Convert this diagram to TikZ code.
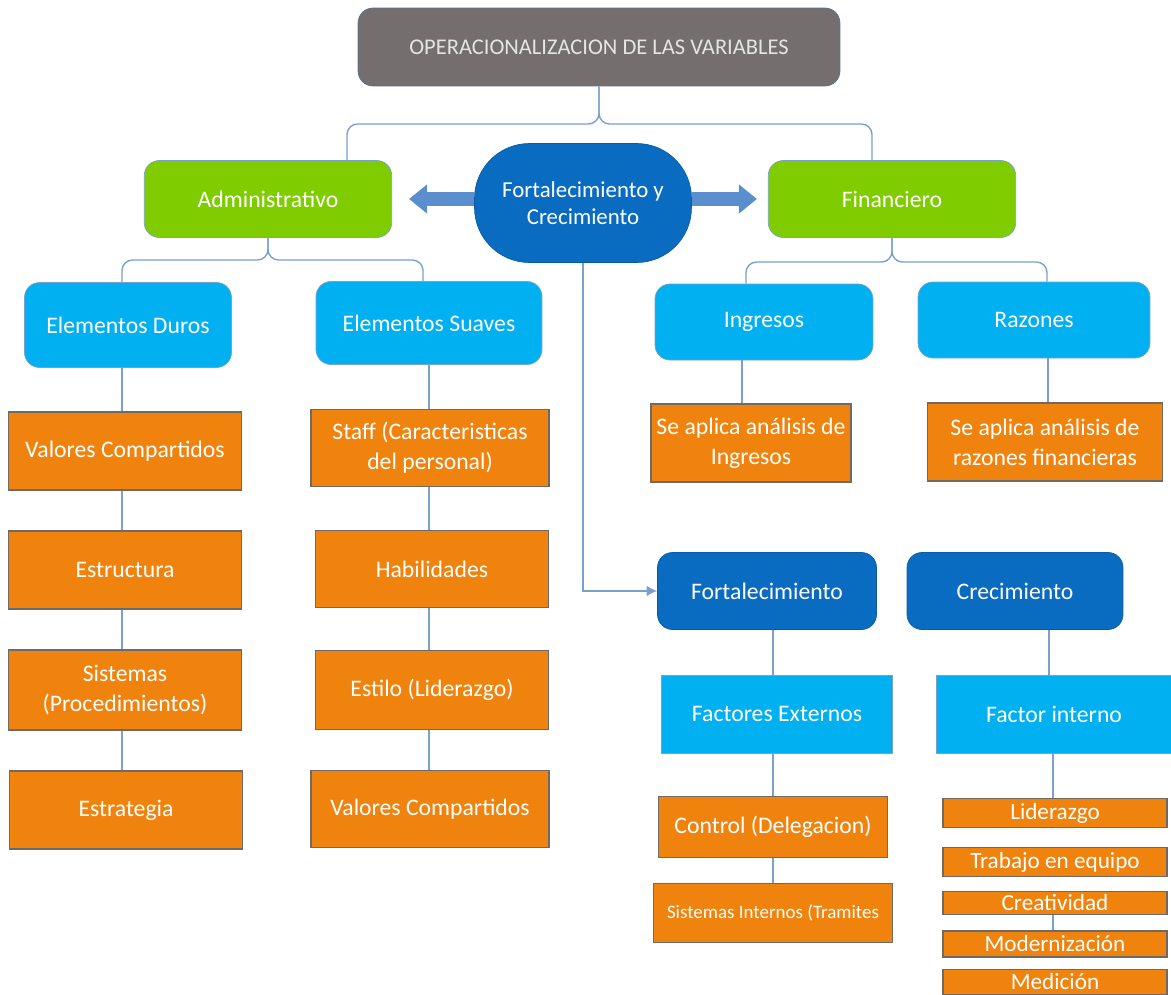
\documentclass[tikz,border=0pt]{standalone}
\usepackage{fontspec}
\setmainfont{Carlito}
\usetikzlibrary{arrows.meta, positioning, calc}
\definecolor{TitleGray}{RGB}{117,110,110}
\definecolor{TitleBorder}{RGB}{84,112,152}
\definecolor{AdminGreen}{RGB}{127,205,0}
\definecolor{SkyBlue}{RGB}{0,176,240}
\definecolor{DeepBlue}{RGB}{10,108,192}
\definecolor{BoxOrange}{RGB}{240,131,14}
\definecolor{OrangeBorder}{RGB}{112,106,100}
\definecolor{LinkBlue}{RGB}{122,160,206}
\definecolor{FatArrow}{RGB}{90,142,204}

\begin{document}
\begin{tikzpicture}[
    x=0.02cm, y=-0.02cm,
    box/.style={draw, align=center, text=white, inner sep=2pt, font=\fontsize{13.5}{17}\selectfont},
    titlebox/.style={box, fill=TitleGray, draw=TitleBorder, rounded corners=0.3cm, text=white!90!black, font=\fontsize{12.8}{14}\selectfont, minimum width=9.64cm, minimum height=1.56cm},
    varbox/.style={box, fill=AdminGreen, draw=LinkBlue, rounded corners=0.3cm, minimum width=4.95cm, minimum height=1.54cm},
    hubbox/.style={box, fill=DeepBlue, draw=DeepBlue!85!black, rounded corners=1.1cm, minimum width=4.34cm, minimum height=2.38cm, font=\fontsize{13}{15.5}\selectfont},
    dimbox/.style={box, fill=SkyBlue, draw=LinkBlue, rounded corners=0.3cm, minimum height=1.52cm},
    dimsq/.style={box, fill=SkyBlue, draw=LinkBlue, minimum width=4.62cm, minimum height=1.56cm},
    axisbox/.style={box, fill=DeepBlue, draw=DeepBlue!85!black, rounded corners=0.3cm, minimum width=4.38cm, minimum height=1.54cm},
    itembox/.style={box, fill=BoxOrange, draw=OrangeBorder, line width=0.9pt, minimum width=4.66cm, minimum height=1.56cm},
    thinbox/.style={box, fill=BoxOrange, draw=OrangeBorder, line width=0.9pt, minimum width=4.48cm, inner sep=0pt, font=\fontsize{13.2}{14}\selectfont},
    link/.style={draw=LinkBlue, line width=0.8pt},
    fat/.style={draw=FatArrow, line width=0.28cm, -{Triangle[width=0.56cm, length=0.36cm]}}
]
\useasboundingbox (0,0) rectangle (1171,995);

% top level
\node[titlebox] (titulo) at (599,47) {OPERACIONALIZACION DE LAS VARIABLES};
\node[varbox] (admin) at (268,199) {Administrativo};
\node[hubbox] (hub) at (583,203) {Fortalecimiento y\\Crecimiento};
\node[varbox] (finan) at (892,199) {Financiero};

% second level
\node[dimbox, minimum width=4.14cm, minimum height=1.7cm] (duros) at (128,325) {Elementos Duros};
\node[dimbox, minimum width=4.52cm, minimum height=1.66cm] (suaves) at (429,323) {Elementos Suaves};
\node[dimbox, minimum width=4.36cm] (ingresos) at (764,322) {Ingresos};
\node[dimbox, minimum width=4.64cm] (razones) at (1034,320) {Razones};

% elementos duros
\node[itembox] (valores) at (125,451) {Valores Compartidos};
\node[itembox] (estructura) at (125,570) {Estructura};
\node[itembox, minimum height=1.6cm] (sistemas) at (125,690) {Sistemas\\(Procedimientos)};
\node[itembox] (estrategia) at (126,810) {Estrategia};

% elementos suaves
\node[itembox, minimum width=4.76cm, minimum height=1.54cm] (staff) at (430,448) {Staff (Caracteristicas\\del personal)};
\node[itembox, minimum width=4.66cm, minimum height=1.54cm] (habilidades) at (432,569) {Habilidades};
\node[itembox, minimum width=4.66cm, minimum height=1.58cm] (estilo) at (432,690) {Estilo (Liderazgo)};
\node[itembox, minimum width=4.76cm, minimum height=1.54cm] (valores2) at (430,809) {Valores Compartidos};

% financiero
\node[itembox, minimum width=4cm] (anIng) at (751,443) {Se aplica análisis de\\Ingresos};
\node[itembox, minimum width=4.7cm] (anRaz) at (1045,442) {Se aplica análisis de\\razones financieras};

% fortalecimiento y crecimiento
\node[axisbox] (fort) at (767,591) {Fortalecimiento};
\node[axisbox, minimum width=4.32cm] (crec) at (1015,591) {Crecimiento};
\node[dimsq] (factExt) at (777,714) {Factores Externos};
\node[dimsq, minimum width=4.7cm] (factInt) at (1054,714) {Factor interno};
\node[itembox, minimum width=4.58cm, minimum height=1.22cm] (control) at (773,827) {Control (Delegacion)};
\node[itembox, minimum width=4.78cm, minimum height=1.18cm, font=\fontsize{10.8}{12}\selectfont] (sistInt) at (773,913) {Sistemas Internos (Tramites};
\node[thinbox, minimum height=0.58cm] (lider) at (1055,813) {Liderazgo};
\node[thinbox, minimum height=0.58cm] (trabajo) at (1055,862) {Trabajo en equipo};
\node[thinbox, minimum height=0.46cm] (creat) at (1055,903) {Creatividad};
\node[thinbox, minimum height=0.52cm] (modern) at (1055,944) {Modernización};
\node[thinbox, minimum height=0.5cm] (medicion) at (1055,982) {Medición};

% braces
\draw[link, rounded corners=6] (titulo.south) |- (347,124) -- (347,0 |- admin.north);
\draw[link, rounded corners=6] (titulo.south) |- (872,124) -- (872,0 |- finan.north);
\draw[link, rounded corners=6] (admin.south) |- (122,260) -- (122,0 |- duros.north);
\draw[link, rounded corners=6] (admin.south) |- (423,260) -- (423,0 |- suaves.north);
\draw[link, rounded corners=6] (finan.south) |- (746,262) -- (746,0 |- ingresos.north);
\draw[link, rounded corners=6] (finan.south) |- (1047,262) -- (1047,0 |- razones.north);

% fat arrows
\draw[fat, shorten >=0.34cm] (admin.east -| hub.west) -- (admin.east);
\draw[fat, shorten >=0.22cm] (finan.west -| hub.east) -- (finan.west);
\draw[link, -{Latex[length=6pt, width=6pt]}] (hub.south) |- (fort.west);

% columns
\draw[link] (122,0 |- duros.south) -- (122,0 |- valores.north);
\draw[link] (122,0 |- valores.south) -- (122,0 |- estructura.north);
\draw[link] (122,0 |- estructura.south) -- (122,0 |- sistemas.north);
\draw[link] (122,0 |- sistemas.south) -- (122,0 |- estrategia.north);
\draw[link] (429,0 |- suaves.south) -- (429,0 |- staff.north);
\draw[link] (429,0 |- staff.south) -- (429,0 |- habilidades.north);
\draw[link] (429,0 |- habilidades.south) -- (429,0 |- estilo.north);
\draw[link] (429,0 |- estilo.south) -- (429,0 |- valores2.north);
\draw[link] (742,0 |- ingresos.south) -- (742,0 |- anIng.north);
\draw[link] (1048,0 |- razones.south) -- (1048,0 |- anRaz.north);
\draw[link] (773,0 |- fort.south) -- (773,0 |- factExt.north);
\draw[link] (773,0 |- factExt.south) -- (773,0 |- control.north);
\draw[link] (773,0 |- control.south) -- (773,0 |- sistInt.north);
\draw[link] (1049,0 |- crec.south) -- (1049,0 |- factInt.north);
\draw[link] (1053,0 |- factInt.south) -- (1053,0 |- lider.north);
\draw[link] (1053,0 |- creat.south) -- (1053,0 |- modern.north);
\end{tikzpicture}
\end{document}
